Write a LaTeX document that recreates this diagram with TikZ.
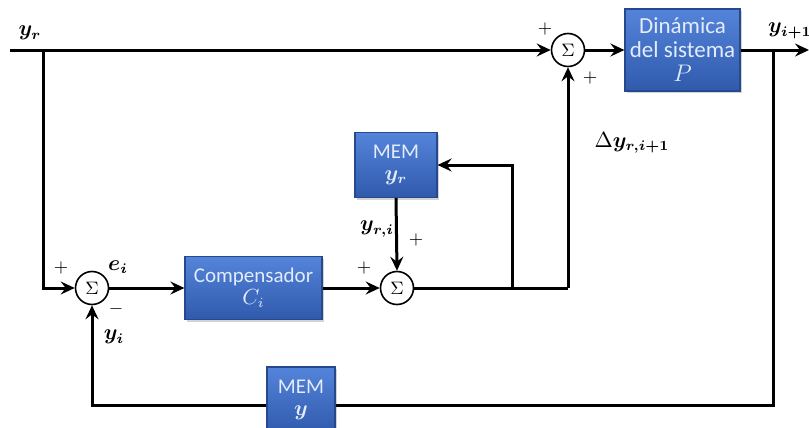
\documentclass[tikz,border=0pt]{standalone}
\usepackage{fontspec}
\usepackage{amsmath,bm}
\setsansfont{Carlito}
\usetikzlibrary{arrows.meta,shadows}
\definecolor{boxtop}{RGB}{84,132,218}
\definecolor{boxbot}{RGB}{48,90,172}
\definecolor{boxedge}{RGB}{38,72,140}
\definecolor{boxtext}{RGB}{226,236,252}
\tikzset{
  ln/.style={line width=1.5pt,black},
  arr/.style={ln,-{Stealth[length=7pt,width=6.5pt,inset=2.5pt]}},
  sumnode/.style={circle,draw,line width=0.8pt,minimum size=16.5pt,inner sep=0pt,font=\small,fill=white},
  blk/.style={draw=boxedge,line width=0.6pt,top color=boxtop,bottom color=boxbot,
    text=boxtext,font=\sffamily\fontsize{10.5}{12}\selectfont,align=center,inner sep=1pt,
    drop shadow={shadow xshift=1.2pt,shadow yshift=-1.2pt,opacity=0.35}},
  lbl/.style={font=\fontsize{10.5}{12}\selectfont,inner sep=0pt},
  sgn/.style={font=\small,inner sep=0pt}
}
\begin{document}
\begin{tikzpicture}[x=0.5pt,y=-0.5pt]
\useasboundingbox (0,0) rectangle (809,428);
% nodes
\node[sumnode] (sumT) at (568,50) {$\Sigma$};
\node[sumnode] (sumL) at (92,288) {$\Sigma$};
\node[sumnode] (sumM) at (397,288) {$\Sigma$};
\node[blk,minimum width=57.5pt,minimum height=41pt,font=\sffamily\fontsize{11.5}{13}\selectfont] (boxP) at (682.5,50) {Dinámica\\[-1pt]del sistema\\[-1pt]$P$};
\node[blk,minimum width=68.5pt,minimum height=31.5pt] (boxC) at (253.5,288) {Compensador\\[-1pt]$C_i$};
\node[blk,minimum width=41pt,minimum height=32.5pt] (boxMr) at (396,165) {MEM\\[-1pt]$\bm{y_r}$};
\node[blk,minimum width=34pt,minimum height=33pt] (boxMy) at (301,400) {MEM\\[-1pt]$\bm{y}$};
% coordinates
\coordinate (in) at (10,50);
\coordinate (jL) at (43,50);
\coordinate (jR) at (773,50);
\coordinate (out) at (809,50);
\coordinate (cB) at (773,405);
\coordinate (jM) at (512,288);
\coordinate (jD) at (568,288);
% connectors
\draw[arr] (in) -- (sumT.west);
\draw[arr] (jL) |- (sumL.west);
\draw[arr] (sumT.east) -- (boxP.west);
\draw[arr] (boxP.east) -- (out);
\draw[ln] (jR) -- (cB) -- (cB -| boxMy.east);
\draw[arr] (boxMy.west |- cB) -| (sumL.south);
\draw[arr] (sumL.east) -- (boxC.west);
\draw[arr] (boxC.east) -- (sumM.west);
\draw[ln] (sumM.east) -- (jD);
\draw[arr] (jD) -- (sumT.south);
\draw[arr] (jM) |- (boxMr.east);
\draw[arr] (boxMr.south) -- (sumM.north);
% labels
\node[lbl] (lyr) at (30,33) {$\bm{y_r}$};
\node[lbl] (lyo) at (790,31) {$\bm{y_{i+1}}$};
\node[lbl] (ldy) at (632,143) {$\Delta\bm{y_{r,i+1}}$};
\node[lbl] (lyri) at (377,229) {$\bm{y_{r,i}}$};
\node[lbl] (lei) at (118,267) {$\bm{e_i}$};
\node[lbl] (lyi) at (114,337) {$\bm{y_i}$};
\node[sgn] (p1) at (545,29) {$+$};
\node[sgn] (p2) at (590,78) {$+$};
\node[sgn] (p3) at (416,240) {$+$};
\node[sgn] (p4) at (364,268) {$+$};
\node[sgn] (p5) at (61,268) {$+$};
\node[sgn] (m1) at (116,309) {$-$};
\end{tikzpicture}
\end{document}
